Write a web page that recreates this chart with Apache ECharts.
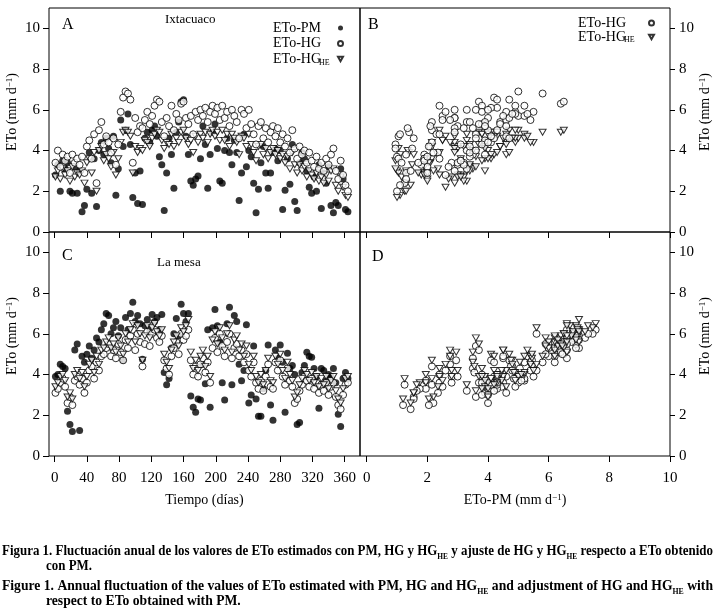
<!DOCTYPE html>
<html>
<head>
<meta charset="utf-8">
<title>ETo Ixtacuaco y La mesa</title>
<script src="https://cdn.jsdelivr.net/npm/echarts@6/dist/echarts.min.js"></script>
<style>
body { margin: 0; background: #fff; }
#main { width: 717px; height: 616px; }
</style>
</head>
<body>
<div id="main"></div>
<script>
// dias del año (un dato cada 3 dias)
var dias = [1,4,7,10,13,16,19,22,25,28, 31,34,37,40,43,46,49,52,55,58,
  61,64,67,70,73,76,79,82,85,88, 91,94,97,100,103,106,109,112,115,118,
  121,124,127,130,133,136,139,142,145,148, 151,154,157,160,163,166,169,172,175,178,
  181,184,187,190,193,196,199,202,205,208, 211,214,217,220,223,226,229,232,235,238,
  241,244,247,250,253,256,259,262,265,268, 271,274,277,280,283,286,289,292,295,298,
  301,304,307,310,313,316,319,322,325,328, 331,334,337,340,343,346,349,352,355,358,
  361,364];

// Ixtacuaco (mm d-1)
var pmIxta = [2.8,3.3,2.0,3.5,3.1,3.4,2.0,1.9,3.2,1.9, 3.0,1.0,1.3,2.1,3.9,1.9,3.6,1.25,4.0,4.4,
  3.8,4.6,4.1,3.4,4.7,1.8,3.1,5.5,4.2,5.0, 5.8,4.3,1.7,2.9,1.4,3.0,1.35,4.6,4.9,4.4,
  5.0,5.2,4.7,3.7,3.3,1.05,2.9,4.6,3.8,2.15, 4.9,5.4,6.4,6.5,4.7,3.8,2.5,2.3,2.6,2.75,
  3.6,5.2,4.3,2.15,3.8,4.9,5.3,4.1,2.5,2.4, 4.0,4.6,3.9,3.3,4.5,3.9,1.55,2.9,4.8,3.2,
  4.0,3.7,2.4,0.95,2.1,3.4,4.2,2.9,2.15,2.9, 3.9,4.1,3.5,4.0,1.1,2.05,3.6,2.35,4.3,1.5,
  1.05,3.4,3.9,3.6,3.0,2.2,1.9,2.7,2.0,3.3, 1.15,2.9,2.4,3.2,1.3,0.95,1.45,1.3,3.1,2.6,
  1.1,1.0];
var hgIxta = [3.4,4.0,3.2,3.8,3.5,3.7,2.9,3.8,3.4,3.6, 3.3,3.7,2.9,4.2,4.5,3.6,4.8,2.4,5.0,5.4,
  4.3,4.7,4.4,3.9,4.6,3.3,4.3,5.9,6.6,6.9, 6.8,6.5,3.4,5.6,4.9,5.2,5.1,5.5,5.9,5.3,
  5.7,6.2,6.5,6.4,5.4,4.7,5.6,5.2,6.2,5.0, 5.8,5.5,6.3,6.4,5.6,5.3,5.7,4.8,5.9,5.5,
  6.0,5.7,6.1,5.4,5.9,6.2,5.8,6.1,5.5,6.2, 5.6,5.9,5.2,6.0,5.7,5.4,4.6,6.0,5.8,5.1,
  6.0,5.3,4.8,4.3,5.2,5.4,4.6,5.1,4.4,4.9, 5.2,4.7,5.1,4.4,4.8,4.2,4.6,3.9,5.0,4.1,
  3.6,4.2,3.8,4.0,3.4,3.9,3.5,3.2,3.7,3.1, 3.4,3.0,3.6,3.3,3.8,4.1,3.0,2.6,3.5,2.8,
  2.3,2.0];
var heIxta = [2.7,3.0,2.6,3.1,2.8,3.0,2.5,3.2,2.7,2.9, 2.8,3.0,2.4,3.4,3.6,2.9,3.9,2.0,4.0,4.2,
  3.5,3.8,3.6,3.2,3.9,2.8,3.6,4.4,4.9,5.0, 4.9,4.7,2.9,4.2,3.9,4.1,4.0,4.5,4.4,4.2,
  4.6,4.8,5.0,4.9,4.5,4.1,4.4,4.3,4.8,4.2, 4.6,4.4,4.9,5.0,4.6,4.3,4.5,3.9,4.7,4.4,
  4.8,4.6,4.9,4.4,4.8,5.0,4.7,4.9,4.5,5.0, 4.5,4.8,4.2,4.8,4.6,4.4,3.8,4.7,4.6,4.2,
  4.8,4.3,3.9,3.5,4.2,4.3,3.8,4.1,3.6,3.9, 4.1,3.8,4.0,3.6,3.8,3.4,3.7,3.1,3.9,3.3,
  2.9,3.3,3.0,3.2,2.7,3.0,2.8,2.6,2.9,2.5, 2.7,2.4,2.8,2.5,3.0,3.1,2.3,2.0,2.7,2.2,
  1.8,1.7];

// La mesa (mm d-1)
var pmMesa = [3.9,4.0,4.5,4.4,4.3,2.2,1.55,1.2,5.2,5.5, 1.25,4.9,4.6,5.0,5.4,4.8,5.2,5.8,5.6,6.2,
  6.5,7.0,6.9,6.0,6.3,6.6,5.9,6.3,4.7,6.8, 6.2,7.0,7.55,6.6,6.9,6.5,4.75,6.4,6.7,6.2,
  6.95,6.6,6.8,6.2,6.95,4.1,3.5,3.8,5.3,6.0, 6.75,5.9,7.45,7.0,6.6,7.0,2.95,2.4,2.15,2.8,
  2.75,4.5,3.55,6.2,2.4,6.3,7.2,6.4,5.6,3.6, 2.75,6.5,7.3,3.5,6.9,6.6,4.5,3.7,4.2,6.45,
  2.6,3.0,5.4,2.8,1.95,1.95,3.3,4.2,5.45,2.5, 1.75,5.2,4.8,5.45,4.6,2.15,5.05,4.3,4.45,4.0,
  1.55,1.65,4.1,4.45,5.1,4.9,4.85,4.3,3.9,2.35, 4.3,4.2,3.7,4.0,3.9,4.3,3.6,2.05,1.45,3.8,
  4.1,3.8];
var hgMesa = [3.1,3.3,3.6,3.8,3.4,2.6,2.9,2.5,3.7,3.9, 3.5,3.8,3.1,3.6,4.2,4.4,3.8,4.6,4.2,4.9,
  5.0,5.3,5.5,4.9,5.2,4.8,5.5,5.1,4.7,5.7, 5.3,5.9,6.2,5.2,6.0,5.6,4.4,5.5,6.1,5.4,
  6.0,6.2,5.8,5.6,5.9,4.7,4.3,4.0,4.9,5.3, 5.6,5.0,6.0,5.7,5.9,6.2,4.7,4.0,4.4,3.9,
  4.5,4.8,4.1,4.6,3.6,5.3,5.8,5.1,6.0,5.4, 4.9,5.6,6.0,4.8,5.3,5.5,4.9,5.2,4.6,5.0,
  4.2,3.9,4.6,3.6,3.3,3.7,3.2,3.9,4.5,3.4, 3.3,4.6,4.2,4.7,3.9,3.5,4.3,3.7,3.4,2.6,
  2.8,3.2,3.5,3.9,3.7,3.4,3.8,3.3,3.6,3.1, 3.5,3.2,3.6,3.0,3.4,3.6,2.9,2.5,2.3,3.0,
  3.5,3.6];
var heMesa = [3.4,3.6,3.9,4.0,3.7,2.9,3.1,2.8,4.0,4.2, 3.8,4.1,3.4,3.9,4.5,4.7,4.1,4.9,4.5,5.2,
  5.3,5.6,5.8,5.3,5.5,5.1,5.8,5.4,5.0,6.0, 5.6,6.2,6.5,5.6,6.4,6.0,4.7,5.9,6.4,5.8,
  6.3,6.5,6.1,5.9,6.2,5.0,4.6,4.3,5.2,5.6, 5.9,5.4,6.3,6.1,6.4,6.7,5.1,4.3,4.7,4.2,
  4.9,5.2,4.4,4.9,3.9,5.7,6.1,5.5,6.3,5.8, 5.2,6.0,6.4,5.1,5.7,5.9,5.2,5.5,4.9,5.4,
  4.5,4.2,4.9,3.9,3.6,4.0,3.5,4.2,4.8,3.7, 3.6,4.9,4.5,5.0,4.2,3.8,4.6,4.0,3.7,2.9,
  3.1,3.5,3.8,4.2,4.0,3.7,4.1,3.6,3.9,3.4, 3.8,3.5,3.9,3.3,3.7,3.9,3.2,2.8,2.6,3.3,
  3.8,3.9];

// marcas de los ejes
var ticksDias = [0,40,80,120,160,200,240,280,320,360];
var ticksETo = [0,2,4,6,8,10];

var fuente = 'Liberation Serif, DejaVu Serif, serif';

function pares(xs, ys) {
  return xs.map(function (x, i) { return [x, ys[i]]; });
}

// tipos de simbolo
function serie(nombre, idx, datos) {
  var s = {
    name: nombre, type: 'scatter', xAxisIndex: idx, yAxisIndex: idx,
    data: datos, symbolSize: 7, emphasis: { disabled: true }
  };
  if (nombre === 'ETo-PM') {
    s.symbol = 'circle';
    s.itemStyle = { color: '#000' };
  } else if (nombre === 'ETo-HG') {
    s.symbol = 'circle';
    s.itemStyle = { color: '#fff', borderColor: '#000', borderWidth: 1 };
  } else {
    s.symbol = 'triangle';
    s.symbolRotate = 180;
    s.symbolSize = [7, 6];
    s.itemStyle = { color: '#fff', borderColor: '#000', borderWidth: 1 };
  }
  return s;
}

var richSup = { sup: { fontFamily: fuente, fontSize: 9, verticalAlign: 'top', lineHeight: 9, padding: [0, 0, 6, 0] } };

function ejeX(idx, min, max, ticks, conEtiqueta, nombre) {
  return {
    gridIndex: idx, type: 'value', min: min, max: max,
    name: nombre || '', nameLocation: 'middle', nameGap: 37,
    nameTextStyle: { fontFamily: fuente, fontSize: 14, color: '#000', rich: richSup },
    axisLine: { show: false, onZero: false },
    splitLine: { show: false },
    axisTick: { customValues: ticks, length: 6, lineStyle: { color: '#000' } },
    axisLabel: { show: conEtiqueta, customValues: ticks, margin: 15,
      fontFamily: fuente, fontSize: 15, color: '#000' }
  };
}

function ejeY(idx, lado) {
  return {
    gridIndex: idx, type: 'value', min: 0, max: 11, position: lado,
    name: 'ETo (mm d{sup|−1})', nameLocation: 'middle', nameRotate: 90,
    nameGap: lado === 'left' ? 30 : 27,
    nameTextStyle: { fontFamily: fuente, fontSize: 14, color: '#000', padding: [0, 0, 0, 16], rich: richSup },
    axisLine: { show: false, onZero: false },
    splitLine: { show: false },
    axisTick: { customValues: ticksETo, length: lado === 'left' ? 6 : 5, lineStyle: { color: '#000' } },
    axisLabel: { customValues: ticksETo, margin: 9,
      fontFamily: fuente, fontSize: 15, color: '#000' }
  };
}

var marco = { show: true, borderColor: '#000', borderWidth: 1, backgroundColor: 'transparent' };

// triangulo invertido para la leyenda
var iconoHE = 'path://M0,0L10,0L5,9Z';

function leyenda(nombres, left, top, ancho, alto, gap) {
  return {
    data: nombres.map(function (n) {
      return n === 'ETo-HGHE' ? { name: n, icon: iconoHE } : { name: n };
    }),
    orient: 'vertical', left: left, top: top, align: 'right', padding: 0,
    itemWidth: 5, itemHeight: 5, itemGap: gap, selectedMode: false,
    formatter: function (n) {
      return n === 'ETo-HGHE' ? '{u|ETo-HG}{s|HE}' : '{t|' + n + '}';
    },
    textStyle: {
      fontFamily: fuente, fontSize: 14, color: '#000',
      rich: {
        t: { width: ancho, align: 'left', fontFamily: fuente, fontSize: 14, lineHeight: alto, color: '#000' },
        u: { width: 46, align: 'left', fontFamily: fuente, fontSize: 14, lineHeight: alto, color: '#000' },
        s: { width: ancho - 46, align: 'left', fontFamily: fuente, fontSize: 8, lineHeight: 8, verticalAlign: 'bottom', color: '#000' }
      }
    }
  };
}

// texto de pie con subindices
var richPie = { s: { fontFamily: fuente, fontSize: 8, fontWeight: 'bold', lineHeight: 8, verticalAlign: 'bottom', padding: [0, 0, -3, 0] } };
var lineasPie = [
  ['Figura 1. Fluctuación anual de los valores de ETo estimados con PM, HG y HG', 'HE', ' y ajuste de HG y HG', 'HE', ' respecto a ETo obtenido'],
  ['Figure 1. Annual fluctuation of the values of ETo estimated with PM, HG and HG', 'HE', ' and adjustment of HG and HG', 'HE', ' with']
];
var ctx = document.createElement('canvas').getContext('2d');
function anchoLinea(partes) {
  var w = 0;
  partes.forEach(function (p, i) {
    ctx.font = (i % 2 ? 'bold 8px ' : 'bold 14px ') + fuente;
    w += ctx.measureText(p).width;
  });
  return w;
}
function textoRich(partes) {
  return partes.map(function (p, i) { return i % 2 ? '{s|' + p + '}' : p; }).join('');
}
var escala1 = 711 / anchoLinea(lineasPie[0]);
var escala2 = 711 / anchoLinea(lineasPie[1]);

function texto(x, y, t, size, extra) {
  var st = { x: x, y: y, text: t, fontFamily: fuente, fontSize: size, fill: '#000', verticalAlign: 'middle' };
  if (extra) { for (var k in extra) st[k] = extra[k]; }
  return { type: 'text', style: st };
}
function pie(y, t, escala, x0) {
  var e = texto(0, 0, t, 14, { fontWeight: 'bold', rich: richPie });
  e.x = x0; e.y = y; e.scaleX = escala;
  return e;
}

var myChart = echarts.init(document.getElementById('main'));

var option = {
  animation: false,
  backgroundColor: '#fff',
  grid: [
    Object.assign({ left: 49, top: 8, width: 311, height: 224 }, marco),
    Object.assign({ left: 360, top: 8, width: 310, height: 224 }, marco),
    Object.assign({ left: 49, top: 232, width: 311, height: 224 }, marco),
    Object.assign({ left: 360, top: 232, width: 310, height: 224 }, marco)
  ],
  xAxis: [
    ejeX(0, -7, 379, ticksDias, false),
    ejeX(1, -0.22, 10, ticksETo, false),
    ejeX(2, -7, 379, ticksDias, true, 'Tiempo (días)'),
    ejeX(3, -0.22, 10, ticksETo, true, 'ETo-PM (mm d{sup|−1})')
  ],
  yAxis: [ejeY(0, 'left'), ejeY(1, 'right'), ejeY(2, 'left'), ejeY(3, 'right')],
  legend: [
    leyenda(['ETo-PM', 'ETo-HG', 'ETo-HGHE'], 273, 21, 60, 15.5, 1.5),
    leyenda(['ETo-HG', 'ETo-HGHE'], 578, 16, 66, 14, 0)
  ],
  series: [
    // A: serie anual Ixtacuaco
    serie('ETo-PM', 0, pares(dias, pmIxta)),
    serie('ETo-HGHE', 0, pares(dias, heIxta)),
    serie('ETo-HG', 0, pares(dias, hgIxta)),
    // B: ajuste respecto a PM, Ixtacuaco
    serie('ETo-HGHE', 1, pares(pmIxta, heIxta)),
    serie('ETo-HG', 1, pares(pmIxta, hgIxta)),
    // C: serie anual La mesa
    serie('ETo-PM', 2, pares(dias, pmMesa)),
    serie('ETo-HG', 2, pares(dias, hgMesa)),
    serie('ETo-HGHE', 2, pares(dias, heMesa)),
    // D: ajuste respecto a PM, La mesa
    serie('ETo-HG', 3, pares(pmMesa, hgMesa)),
    serie('ETo-HGHE', 3, pares(pmMesa, heMesa))
  ],
  graphic: [
    texto(62, 25, 'A', 16),
    texto(165, 20, 'Ixtacuaco', 13),
    texto(368, 25, 'B', 16),
    texto(62, 256, 'C', 16),
    texto(157, 263, 'La mesa', 13),
    texto(372, 257, 'D', 16),
    pie(551, textoRich(lineasPie[0]), escala1, 2),
    pie(566, 'con PM.', escala1, 46),
    pie(586, textoRich(lineasPie[1]), escala2, 2),
    pie(601, 'respect to ETo obtained with PM.', escala2, 46)
  ]
};

myChart.setOption(option);
</script>
</body>
</html>
